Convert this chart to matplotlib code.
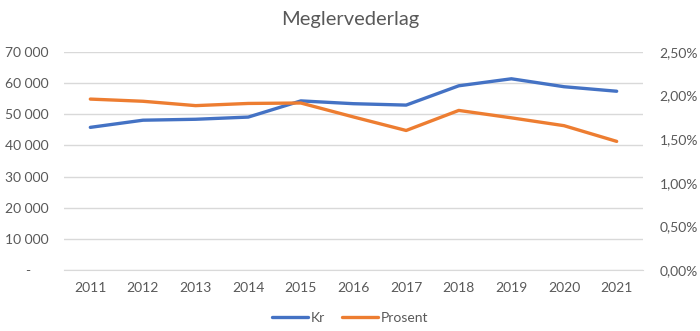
import matplotlib
matplotlib.use("Agg")
import matplotlib.pyplot as plt
from matplotlib.ticker import FuncFormatter

years = [2011, 2012, 2013, 2014, 2015, 2016, 2017, 2018, 2019, 2020, 2021]
kr = [45800, 48100, 48400, 49100, 54300, 53400, 52950, 59150, 61400, 58850, 57400]
prosent = [1.96, 1.935, 1.885, 1.91, 1.915, 1.755, 1.60, 1.83, 1.745, 1.655, 1.475]

plt.rcParams['font.family'] = ['Lato', 'DejaVu Sans']
txt = '#595959'
blue = '#4472C4'
orange = '#ED7D31'

fig = plt.figure(figsize=(7, 3.31), dpi=100)
ax = fig.add_axes([64/700, 1-270/331, (643-64)/700, (270-52)/331])
ax2 = ax.twinx()

l1, = ax.plot(years, kr, color=blue, lw=2.4, solid_capstyle='round', label='Kr', zorder=3)
l2, = ax2.plot(years, prosent, color=orange, lw=2.4, solid_capstyle='round', label='Prosent', zorder=3)

ax.set_xlim(2010.5, 2021.5)
ax.set_ylim(0, 70000)
ax2.set_ylim(0, 2.5)
ax.set_yticks(range(0, 70001, 10000))
ax2.set_yticks([0, 0.5, 1.0, 1.5, 2.0, 2.5])
ax.set_xticks(years)

def lf(v, p):
    if v == 0:
        return '-     '
    return f"{int(v):,}".replace(',', ' ')
ax.yaxis.set_major_formatter(FuncFormatter(lf))
ax2.yaxis.set_major_formatter(FuncFormatter(lambda v, p: f"{v:.2f}%".replace('.', ',')))

ax.grid(axis='y', color='#D9D9D9', lw=1)
ax.set_axisbelow(True)
for a in (ax, ax2):
    for s in a.spines.values():
        s.set_visible(False)
    a.tick_params(length=0, labelsize=10, colors=txt)
ax.spines['bottom'].set_visible(True)
ax.spines['bottom'].set_color('#D9D9D9')
ax.tick_params(axis='y', pad=11)
ax.tick_params(axis='x', pad=9)
ax2.tick_params(axis='y', pad=12)

fig.text(0.5, 1-20/331, 'Meglervederlag', ha='center', va='center', fontsize=14.5, color=txt)
fig.legend(handles=[l1, l2], loc='center', bbox_to_anchor=(0.5, 1-318/331), ncol=2,
           frameon=False, fontsize=10, labelcolor=txt, handlelength=2.6, columnspacing=1.2,
           handletextpad=0.2)

fig.savefig('out.png', dpi=100)
